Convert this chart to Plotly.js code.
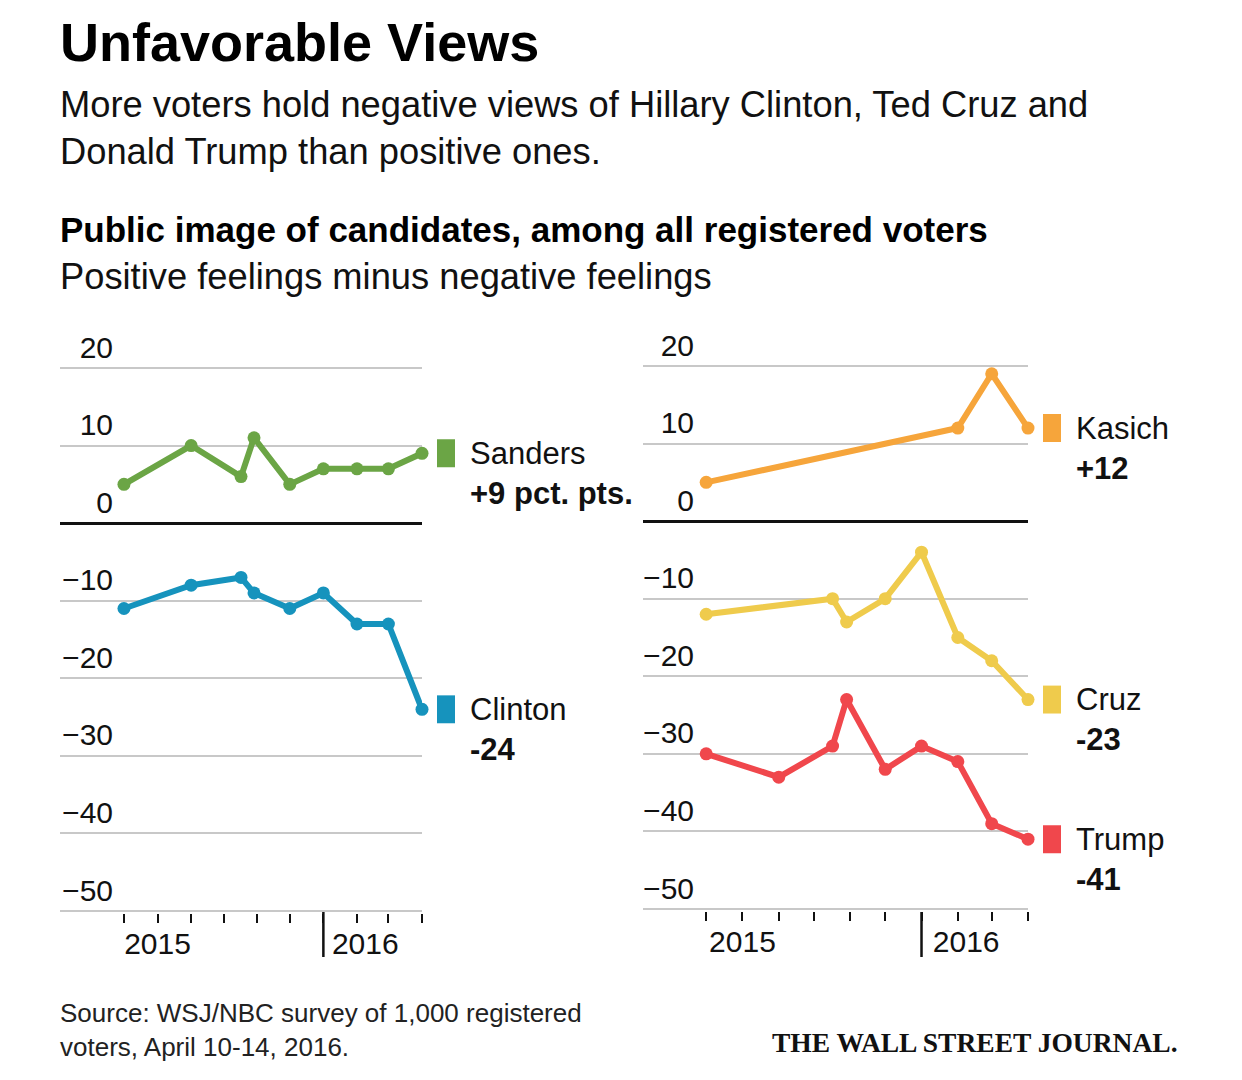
<!DOCTYPE html>
<html>
<head>
<meta charset="utf-8">
<script src="https://cdn.plot.ly/plotly-3.0.1.min.js"></script>
<style>
  html, body { margin: 0; padding: 0; background: #fff; }
  #chart { width: 1242px; height: 1080px; }
</style>
</head>
<body>
<div id="chart"></div>
<script>
// ---- data ----
const months = ['2015-07-01','2015-08-01','2015-09-01','2015-10-01','2015-11-01','2015-12-01','2016-01-01','2016-02-01','2016-03-01','2016-04-01'];
const monthLabels = ['', '2015', '', '', '', '', '', '\u00a0\u00a02016', '', ''];
const yTicks = [-50, -40, -30, -20, -10, 0, 10, 20];

const sandersDates = ['2015-07-01','2015-09-01','2015-10-17','2015-10-29','2015-12-01','2016-01-01','2016-02-01','2016-03-01','2016-04-01'];
const sandersVals  = [5, 10, 6, 11, 5, 7, 7, 7, 9];
const clintonDates = ['2015-07-01','2015-09-01','2015-10-17','2015-10-29','2015-12-01','2016-01-01','2016-02-01','2016-03-01','2016-04-01'];
const clintonVals  = [-11, -8, -7, -9, -11, -9, -13, -13, -24];
const kasichDates  = ['2015-07-01','2016-02-01','2016-03-01','2016-04-01'];
const kasichVals   = [5, 12, 19, 12];
const cruzDates    = ['2015-07-01','2015-10-17','2015-10-29','2015-12-01','2016-01-01','2016-02-01','2016-03-01','2016-04-01'];
const cruzVals     = [-12, -10, -13, -10, -4, -15, -18, -23];
const trumpDates   = ['2015-07-01','2015-09-01','2015-10-17','2015-10-29','2015-12-01','2016-01-01','2016-02-01','2016-03-01','2016-04-01'];
const trumpVals    = [-30, -33, -29, -23, -32, -29, -31, -39, -41];

const series = [
  {name: 'Sanders', dates: sandersDates, vals: sandersVals, color: '#6ba545', panel: 1, suffix: ' pct. pts.'},
  {name: 'Clinton', dates: clintonDates, vals: clintonVals, color: '#1693bd', panel: 1, suffix: ''},
  {name: 'Kasich',  dates: kasichDates,  vals: kasichVals,  color: '#f6a53b', panel: 2, suffix: ''},
  {name: 'Cruz',    dates: cruzDates,    vals: cruzVals,    color: '#efcb4c', panel: 2, suffix: ''},
  {name: 'Trump',   dates: trumpDates,   vals: trumpVals,   color: '#f0474c', panel: 2, suffix: ''}
];

const W = 1242, H = 1080;
const px = v => v / W;
const py = v => 1 - v / H;
const FONT = '"Liberation Sans", Arial, sans-serif';

const traces = series.map(s => ({
  type: 'scatter', mode: 'lines+markers',
  x: s.dates, y: s.vals,
  xaxis: s.panel === 1 ? 'x' : 'x2',
  yaxis: s.panel === 1 ? 'y' : 'y2',
  line: {color: s.color, width: 6},
  marker: {color: s.color, size: 13},
  cliponaxis: false, hoverinfo: 'skip', showlegend: false
}));

const labelX = {1: px(468), 2: px(1074)};
const squareX = {1: [px(437), px(455)], 2: [px(1043), px(1061)]};

const annotations = [];
const shapes = [];
series.forEach(s => {
  const last = s.vals[s.vals.length - 1];
  const yref = s.panel === 1 ? 'y' : 'y2';
  const valText = (last > 0 ? '+' : '-') + Math.abs(last) + s.suffix;
  annotations.push({xref: 'paper', yref: yref, x: labelX[s.panel], y: last, xanchor: 'left', yanchor: 'middle',
    text: s.name, showarrow: false, font: {family: FONT, size: 31, color: '#111'}});
  annotations.push({xref: 'paper', yref: yref, x: labelX[s.panel], y: last, yshift: -40, xanchor: 'left', yanchor: 'middle',
    text: '<b>' + valText + '</b>', showarrow: false, font: {family: FONT, size: 31, color: '#111'}});
  shapes.push({type: 'rect', xref: 'paper', yref: yref, x0: squareX[s.panel][0], x1: squareX[s.panel][1],
    y0: last - 1.8, y1: last + 1.8, fillcolor: s.color, line: {width: 0}});
});

// long 2016 year ticks
['x', 'x2'].forEach(xr => {
  shapes.push({type: 'line', xref: xr, yref: 'paper', x0: '2016-01-01', x1: '2016-01-01',
    y0: py(912), y1: py(957), line: {color: '#111', width: 2.5}});
});

// text blocks
annotations.push(
  {xref: 'paper', yref: 'paper', x: px(58), y: py(42), xanchor: 'left', yanchor: 'middle', showarrow: false,
   text: '<b>Unfavorable Views</b>', font: {family: FONT, size: 54, color: '#000'}},
  {xref: 'paper', yref: 'paper', x: px(58), y: py(127.5), xanchor: 'left', yanchor: 'middle', align: 'left', showarrow: false,
   text: 'More voters hold negative views of Hillary Clinton, Ted Cruz and<br>Donald Trump than positive ones.', font: {family: FONT, size: 36.3, color: '#111'}},
  {xref: 'paper', yref: 'paper', x: px(58), y: py(229.5), xanchor: 'left', yanchor: 'middle', showarrow: false,
   text: '<b>Public image of candidates, among all registered voters</b>', font: {family: FONT, size: 35, color: '#000'}},
  {xref: 'paper', yref: 'paper', x: px(58), y: py(276), xanchor: 'left', yanchor: 'middle', showarrow: false,
   text: 'Positive feelings minus negative feelings', font: {family: FONT, size: 36.3, color: '#111'}},
  {xref: 'paper', yref: 'paper', x: px(58), y: py(1030), xanchor: 'left', yanchor: 'middle', align: 'left', showarrow: false,
   text: 'Source: WSJ/NBC survey of 1,000 registered<br>voters, April 10-14, 2016.', font: {family: FONT, size: 26, color: '#222'}},
  {xref: 'paper', yref: 'paper', x: px(1180), y: py(1042), xanchor: 'right', yanchor: 'middle', showarrow: false,
   text: '<b>THE WALL STREET JOURNAL.</b>', font: {family: '"Liberation Serif", "Times New Roman", serif', size: 27.5, color: '#111'}}
);

const yRange = [-50.3, 20.3];

function xAxis(domain, range, anchor) {
  return {
    type: 'date', domain: domain, range: range, anchor: anchor,
    showgrid: false, zeroline: false, showline: false,
    tickmode: 'array', tickvals: months, ticktext: monthLabels,
    ticks: 'outside', ticklen: 9, tickwidth: 2, tickcolor: '#111',
    ticklabelstandoff: -5,
    tickfont: {family: FONT, size: 30, color: '#111'}, fixedrange: true
  };
}
function yAxis(top, bottom, position) {
  // top/bottom = pixel rows of the 20 and -50 gridlines
  const pxPerUnit = (bottom - top) / 70;
  const d0 = 1 - (bottom + 0.3 * pxPerUnit) / H;
  const d1 = 1 - (top - 0.3 * pxPerUnit) / H;
  return {
    domain: [d0, d1], range: yRange, anchor: 'free', position: position,
    tickmode: 'array', tickvals: yTicks, ticks: '',
    showgrid: true, gridcolor: '#c8c8c8', gridwidth: 2,
    zeroline: true, zerolinecolor: '#111', zerolinewidth: 3,
    showline: false, ticklabelshift: -21,
    tickfont: {family: FONT, size: 30, color: '#111'}, fixedrange: true
  };
}

const layout = {
  width: W, height: H,
  margin: {l: 0, r: 0, t: 0, b: 0},
  paper_bgcolor: '#fff', plot_bgcolor: '#fff',
  showlegend: false,
  xaxis: xAxis([px(60), px(422)], ['2015-05-03', '2016-04-01'], 'y'),
  xaxis2: xAxis([px(643), px(1028)], ['2015-05-08', '2016-04-01'], 'y2'),
  yaxis: yAxis(368, 911, px(113)),
  yaxis2: yAxis(366, 909, px(694)),
  annotations: annotations,
  shapes: shapes
};

Plotly.newPlot('chart', traces, layout, {staticPlot: true, displayModeBar: false});
</script>
</body>
</html>
